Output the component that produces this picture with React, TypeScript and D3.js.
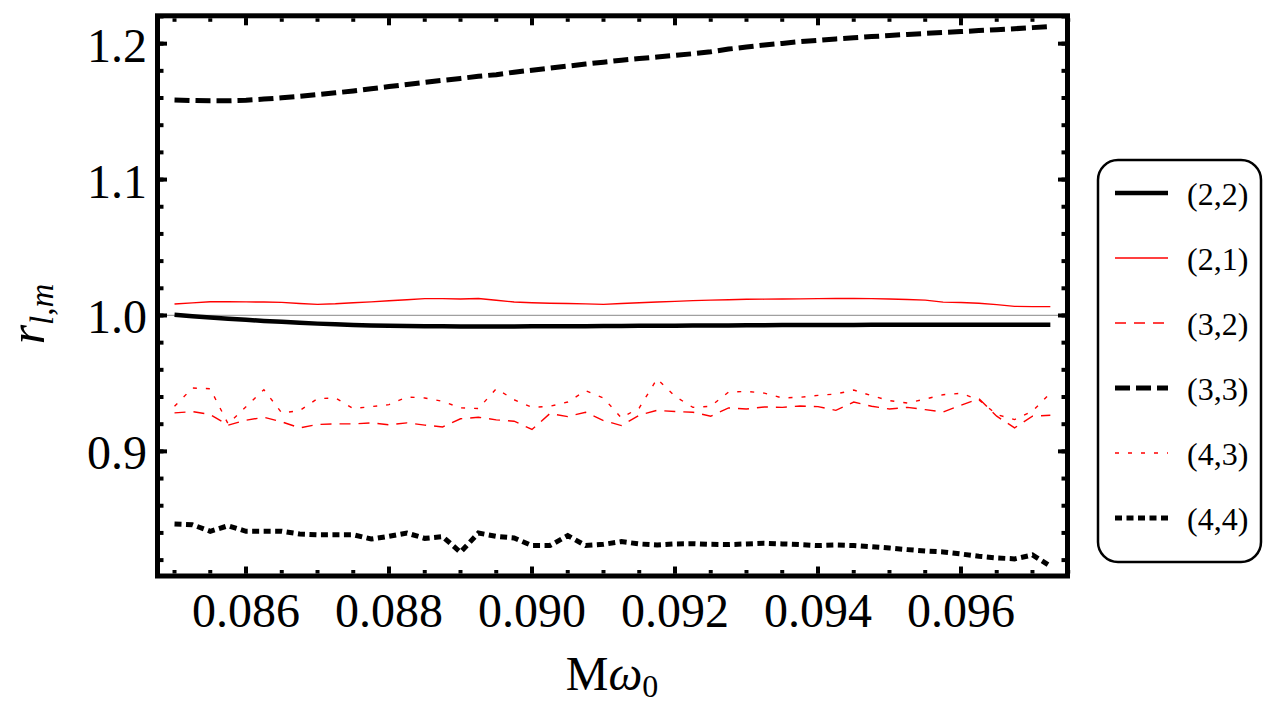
import React from "react";
import * as d3 from "d3";

// Frequency grid M*omega_0
const mOmega = [
  0.085, 0.08525, 0.0855, 0.08575, 0.086, 0.08625, 0.0865, 0.08675, 0.087, 0.08725,
  0.0875, 0.08775, 0.088, 0.08825, 0.0885, 0.08875, 0.089, 0.08925, 0.0895, 0.08975,
  0.09, 0.09025, 0.0905, 0.09075, 0.091, 0.09125, 0.0915, 0.09175, 0.092, 0.09225,
  0.0925, 0.09275, 0.093, 0.09325, 0.0935, 0.09375, 0.094, 0.09425, 0.0945, 0.09475,
  0.095, 0.09525, 0.0955, 0.09575, 0.096, 0.09625, 0.0965, 0.09675, 0.097, 0.09725,
];

const r22 = [
  1.0005, 0.9995, 0.9985, 0.9976, 0.9968, 0.996, 0.9953, 0.9946, 0.994, 0.9935,
  0.993, 0.9927, 0.9924, 0.9922, 0.9921, 0.992, 0.9919, 0.9919, 0.9919, 0.9919,
  0.992, 0.992, 0.9921, 0.9921, 0.9922, 0.9923, 0.9924, 0.9925, 0.9925, 0.9926,
  0.9927, 0.9927, 0.9928, 0.9928, 0.9929, 0.9929, 0.993, 0.993, 0.993, 0.9931,
  0.9931, 0.9931, 0.9931, 0.9932, 0.9932, 0.9932, 0.9932, 0.9932, 0.9932, 0.9932,
];

const r21 = [
  1.0084, 1.0093, 1.0101, 1.0101, 1.01, 1.0099, 1.0096, 1.0088, 1.0082, 1.0086,
  1.0094, 1.01, 1.0108, 1.0116, 1.0124, 1.0124, 1.0121, 1.0125, 1.0112, 1.0099,
  1.0094, 1.009, 1.0088, 1.0085, 1.0082, 1.0088, 1.0094, 1.0099, 1.0104, 1.0109,
  1.0113, 1.0116, 1.0119, 1.012, 1.0121, 1.0122, 1.0124, 1.0125, 1.0126, 1.0124,
  1.0121, 1.0118, 1.0113, 1.0098, 1.0095, 1.009, 1.008, 1.0067, 1.0065, 1.0065,
];

const r32 = [
  0.9283, 0.9293, 0.9271, 0.9193, 0.9229, 0.9251, 0.9217, 0.9173, 0.9198, 0.9202,
  0.9202, 0.921, 0.9195, 0.921, 0.9193, 0.918, 0.924, 0.9251, 0.9232, 0.9222,
  0.9161, 0.9278, 0.9256, 0.9288, 0.9227, 0.919, 0.9266, 0.9302, 0.9293, 0.9288,
  0.9259, 0.932, 0.9312, 0.9327, 0.9324, 0.9334, 0.9329, 0.9302, 0.9363, 0.9332,
  0.9312, 0.9324, 0.9307, 0.929, 0.9339, 0.9388, 0.9259, 0.9173, 0.9259, 0.9266,
];

const r33 = [
  1.1586, 1.1582, 1.158, 1.158, 1.1584, 1.1592, 1.1602, 1.1612, 1.1625, 1.1638,
  1.1652, 1.1668, 1.1684, 1.17, 1.1715, 1.173, 1.1744, 1.176, 1.1772, 1.179,
  1.1805, 1.182, 1.1835, 1.185, 1.1864, 1.1878, 1.189, 1.1902, 1.1914, 1.1926,
  1.194, 1.196, 1.1975, 1.199, 1.2002, 1.2015, 1.2025, 1.2035, 1.2043, 1.2052,
  1.206, 1.2068, 1.2075, 1.2082, 1.2089, 1.2096, 1.2103, 1.211, 1.2118, 1.2126,
];

const r43 = [
  0.9332, 0.9466, 0.9461, 0.9202, 0.9329, 0.9454, 0.9283, 0.93, 0.9388, 0.9393,
  0.9315, 0.9329, 0.9344, 0.94, 0.9393, 0.9368, 0.932, 0.9315, 0.9461, 0.938,
  0.9324, 0.9332, 0.9363, 0.9446, 0.9393, 0.9246, 0.932, 0.9534, 0.9405, 0.9324,
  0.9332, 0.9437, 0.9441, 0.9429, 0.9393, 0.9398, 0.9412, 0.9422, 0.9451, 0.941,
  0.9373, 0.9356, 0.9385, 0.9417, 0.9427, 0.938, 0.9271, 0.9234, 0.9295, 0.9429,
];

const r44 = [
  0.8465, 0.846, 0.8412, 0.8453, 0.8412, 0.8412, 0.8412, 0.8392, 0.8387, 0.8387,
  0.8387, 0.8355, 0.8375, 0.8399, 0.836, 0.8372, 0.8258, 0.8399, 0.8375, 0.8363,
  0.8307, 0.8307, 0.838, 0.8307, 0.8316, 0.8336, 0.8319, 0.8311, 0.8319, 0.8321,
  0.8316, 0.8314, 0.8319, 0.8324, 0.8319, 0.8314, 0.8307, 0.8311, 0.8307, 0.8299,
  0.8289, 0.8277, 0.8267, 0.826, 0.8245, 0.8228, 0.8216, 0.8209, 0.8238, 0.8155,
];

const seriesLabels = ["(2,2)", "(2,1)", "(3,2)", "(3,3)", "(4,3)", "(4,4)"];
const xTickValues = [0.086, 0.088, 0.09, 0.092, 0.094, 0.096];
const xTickLabels = ["0.086", "0.088", "0.090", "0.092", "0.094", "0.096"];
const yTickValues = [0.9, 1.0, 1.1, 1.2];
const yTickLabels = ["0.9", "1.0", "1.1", "1.2"];

const FONT = "'Liberation Serif', 'Times New Roman', serif";

const styles = [
  { color: "#000", width: 4.5, dash: "" },
  { color: "#ff0000", width: 1.4, dash: "" },
  { color: "#ff0000", width: 1.4, dash: "11,8" },
  { color: "#000", width: 5, dash: "15,6" },
  { color: "#ff0000", width: 1.4, dash: "4,9" },
  { color: "#000", width: 5, dash: "7,4.5" },
];

export default function App() {
  const left = 157.5;
  const right = 1067.5;
  const top = 15.8;
  const bottom = 576;

  const x = d3.scaleLinear().domain([0.084762, 0.09749]).range([left, right]);
  const y = d3.scaleLinear().domain([0.8083, 1.2205]).range([bottom, top]);

  const all = [r22, r21, r32, r33, r43, r44];
  const line = d3
    .line<number>()
    .x((_, i) => x(mOmega[i]))
    .y((d) => y(d));

  const frameW = 5;
  const inL = left + frameW / 2;
  const inR = right - frameW / 2;
  const inT = top + frameW / 2;
  const inB = bottom - frameW / 2;
  const majorLen = 7;
  const minorLen = 3.5;

  const xMinor = d3.range(0, 26).map((k) => +(0.085 + k * 0.0005).toFixed(4));
  const yMinor = d3.range(0, 21).map((k) => +(0.82 + k * 0.02).toFixed(2));

  const legendRows = [193, 258, 323, 388, 453, 518];

  return (
    <svg
      width={1264}
      height={707}
      style={{ position: "absolute", left: 0, top: 0, background: "#fff" }}
      fontFamily={FONT}
    >
      <rect x={0} y={0} width={1264} height={707} fill="#fff" />
      <defs>
        <clipPath id="plotClip">
          <rect x={inL} y={inT} width={inR - inL} height={inB - inT} />
        </clipPath>
      </defs>

      {/* reference line at r = 1 */}
      <line x1={inL} x2={inR} y1={y(1)} y2={y(1)} stroke="#a0a0a0" strokeWidth={1.3} />

      <g clipPath="url(#plotClip)">
        {all.map((s, k) => (
          <path
            key={k}
            d={line(s) || ""}
            fill="none"
            stroke={styles[k].color}
            strokeWidth={styles[k].width}
            strokeDasharray={styles[k].dash}
            strokeLinejoin="miter"
          />
        ))}
      </g>

      {/* ticks on all four sides, pointing inward */}
      <g stroke="#000" strokeWidth={4}>
        {xMinor.map((v) => (
          <g key={"xm" + v}>
            <line x1={x(v)} x2={x(v)} y1={inB} y2={inB - minorLen} />
            <line x1={x(v)} x2={x(v)} y1={inT} y2={inT + minorLen} />
          </g>
        ))}
        {xTickValues.map((v) => (
          <g key={"xM" + v}>
            <line x1={x(v)} x2={x(v)} y1={inB} y2={inB - majorLen} />
            <line x1={x(v)} x2={x(v)} y1={inT} y2={inT + majorLen} />
          </g>
        ))}
        {yMinor.map((v) => (
          <g key={"ym" + v}>
            <line x1={inL} x2={inL + minorLen} y1={y(v)} y2={y(v)} />
            <line x1={inR} x2={inR - minorLen} y1={y(v)} y2={y(v)} />
          </g>
        ))}
        {yTickValues.map((v) => (
          <g key={"yM" + v}>
            <line x1={inL} x2={inL + majorLen} y1={y(v)} y2={y(v)} />
            <line x1={inR} x2={inR - majorLen} y1={y(v)} y2={y(v)} />
          </g>
        ))}
      </g>

      <rect
        x={left}
        y={top}
        width={right - left}
        height={bottom - top}
        fill="none"
        stroke="#000"
        strokeWidth={frameW}
      />

      {/* tick labels */}
      <g fontSize={48} fill="#000">
        {xTickValues.map((v, i) => (
          <text key={"xl" + v} x={x(v)} y={627} textAnchor="middle">
            {xTickLabels[i]}
          </text>
        ))}
        {yTickValues.map((v, i) => (
          <text key={"yl" + v} x={147} y={y(v) + 18} textAnchor="end">
            {yTickLabels[i]}
          </text>
        ))}
      </g>

      {/* axis titles */}
      <text x={612} y={690} fontSize={48} textAnchor="middle" fill="#000">
        M<tspan fontStyle="italic">ω</tspan>
        <tspan fontSize={32} dy={7}>0</tspan>
      </text>
      <text
        transform="translate(44,314) rotate(-90)"
        fontSize={50}
        textAnchor="middle"
        fill="#000"
      >
        <tspan fontStyle="italic">r</tspan>
        <tspan fontSize={33} dy={9}>
          <tspan fontStyle="italic">l</tspan>,<tspan fontStyle="italic">m</tspan>
        </tspan>
      </text>

      {/* legend */}
      <rect
        x={1098}
        y={160}
        width={163}
        height={402}
        rx={20}
        ry={20}
        fill="#fff"
        stroke="#000"
        strokeWidth={2.5}
      />
      {seriesLabels.map((lab, k) => (
        <g key={lab}>
          <line
            x1={1115}
            x2={1168}
            y1={legendRows[k]}
            y2={legendRows[k]}
            stroke={styles[k].color}
            strokeWidth={styles[k].width}
            strokeDasharray={styles[k].dash}
          />
          <text x={1187} y={legendRows[k] + 12} fontSize={32} fill="#000">
            {lab}
          </text>
        </g>
      ))}
    </svg>
  );
}
